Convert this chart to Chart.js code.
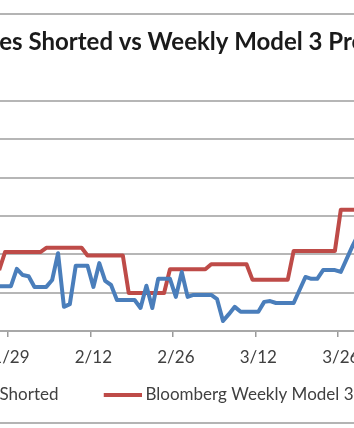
<!DOCTYPE html>
<html>
<head>
<meta charset="utf-8">
<title>Shares Shorted vs Weekly Model 3 Production</title>
<script src="https://cdn.jsdelivr.net/npm/chart.js@4.4.1/dist/chart.umd.min.js"></script>
<style>
  html, body { margin: 0; padding: 0; background: #fff; }
  body { width: 354px; height: 428px; overflow: hidden; position: relative; }
  /* chart border: only top and bottom edges are in view */
  .frame { position: absolute; left: -20px; width: 400px; top: 13px; height: 407px;
           border-top: 2px solid #b4b4b4; border-bottom: 2px solid #b4b4b4; }
  .wrap { position: absolute; left: -141px; top: 0; width: 622px; height: 428px; }
</style>
</head>
<body>
<div class="frame"></div>
<div class="wrap"><canvas id="shortChart"></canvas></div>
<script>
// dates shown on the (daily) category axis
const dateLabels = [
  '1/27', '1/28', '1/29', '1/30', '1/31',
  '2/1', '2/2', '2/3', '2/4', '2/5', '2/6', '2/7', '2/8', '2/9', '2/10',
  '2/11', '2/12', '2/13', '2/14', '2/15', '2/16', '2/17', '2/18', '2/19', '2/20',
  '2/21', '2/22', '2/23', '2/24', '2/25', '2/26', '2/27', '2/28',
  '3/1', '3/2', '3/3', '3/4', '3/5', '3/6', '3/7', '3/8', '3/9', '3/10',
  '3/11', '3/12', '3/13', '3/14', '3/15', '3/16', '3/17', '3/18', '3/19', '3/20',
  '3/21', '3/22', '3/23', '3/24', '3/25', '3/26', '3/27', '3/28', '3/29'
];

// labels that actually get printed under the axis
const tickLabels = ['1/29', '2/12', '2/26', '3/12', '3/26'];

// blue series
const shortedValues = [
  1.17, 1.17, 1.17, 1.62, 1.46, 1.43, 1.15, 1.15, 1.15, 1.33,
  2.03, 0.63, 0.70, 1.70, 1.70, 1.70, 1.15, 1.77, 1.31, 1.20,
  0.81, 0.81, 0.81, 0.81, 0.60, 1.18, 0.60, 1.36, 1.36, 1.36,
  0.89, 1.54, 0.89, 0.94, 0.94, 0.94, 0.94, 0.83, 0.26, 0.44,
  0.63, 0.50, 0.50, 0.50, 0.50, 0.76, 0.78, 0.73, 0.73, 0.73,
  0.73, 1.07, 1.41, 1.36, 1.36, 1.59, 1.59, 1.59, 1.54, 1.88,
  2.22, 2.53
];

// red series (weekly steps)
const modelValues = [
  1.59,
  2.06, 2.06, 2.06, 2.06, 2.06, 2.06, 2.06,
  2.17, 2.17, 2.17, 2.17, 2.17, 2.17, 2.17,
  1.97, 1.97, 1.97, 1.97, 1.97, 1.97, 1.97,
  0.99, 0.99, 0.99, 0.99, 0.99, 0.99, 0.99,
  1.61, 1.61, 1.61, 1.61, 1.61, 1.61, 1.61,
  1.74, 1.74, 1.74, 1.74, 1.74, 1.74, 1.74,
  1.34, 1.34, 1.34, 1.34, 1.34, 1.34, 1.34,
  2.09, 2.09, 2.09, 2.09, 2.09, 2.09, 2.09, 2.09,
  3.16, 3.16, 3.16, 3.16
];

const BLUE = '#4a7ebb';
const RED = '#be4b48';
const GRID = '#b6b6b6';
const TEXT = '#404040';

// widths of the axis areas left/right of the plot (out of view)
const SIDE_LEFT = 137.2;
const SIDE_RIGHT = 119.6;

// legend swatch: empty gap then a short thick line, a bit wider than the box
const SWATCH_BOX = 68.5;
const SWATCH_GAP = 40;
const SWATCH_LEN = 38;

function legendSwatch(color) {
    const c = document.createElement('canvas');
    c.width = SWATCH_GAP + SWATCH_LEN;
    c.height = 4;
    const g = c.getContext('2d');
    g.fillStyle = color;
    g.fillRect(SWATCH_GAP, 0, SWATCH_LEN, 4);
    return c;
}

const ctx = document.getElementById('shortChart').getContext('2d');
new Chart(ctx, {
    type: 'line',
    data: {
        labels: dateLabels,
        datasets: [{
            label: 'Shares Shorted',
            data: shortedValues,
            borderColor: BLUE,
            backgroundColor: BLUE,
            borderWidth: 4,
            pointRadius: 0,
            tension: 0,
            borderJoinStyle: 'round'
        }, {
            label: 'Bloomberg Weekly Model 3 Production',
            data: modelValues,
            borderColor: RED,
            backgroundColor: RED,
            borderWidth: 4,
            pointRadius: 0,
            tension: 0,
            borderJoinStyle: 'round'
        }]
    },
    options: {
        responsive: true,
        maintainAspectRatio: false,
        animation: false,
        layout: {
            padding: { top: 0, bottom: 14.5, left: 0, right: 0 }
        },
        plugins: {
            title: {
                display: true,
                text: 'Tesla Shares Shorted vs Weekly Model 3 Production',
                color: '#1a1a1a',
                font: { family: 'Lato', size: 24, weight: 'bold' },
                padding: { top: 28.2, bottom: 44 }
            },
            legend: {
                position: 'bottom',
                align: 'start',
                labels: {
                    color: TEXT,
                    font: { family: 'Lato', size: 17 },
                    usePointStyle: true,
                    pointStyleWidth: SWATCH_BOX,
                    boxHeight: 4,
                    padding: 10,
                    generateLabels: function(chart) {
                        const items = Chart.defaults.plugins.legend.labels.generateLabels(chart);
                        return items.map(item => Object.assign(item, {
                            pointStyle: legendSwatch(item.strokeStyle)
                        }));
                    }
                }
            },
            tooltip: { enabled: false }
        },
        scales: {
            x: {
                offset: true,
                grid: {
                    offset: true,
                    drawOnChartArea: false,
                    tickLength: 6,
                    lineWidth: 1.5,
                    color: c => tickLabels.includes(dateLabels[c.index]) ? '#9a9a9a' : 'rgba(0,0,0,0)'
                },
                border: { color: '#a8a8a8', width: 2 },
                ticks: {
                    autoSkip: false,
                    maxRotation: 0,
                    minRotation: 0,
                    padding: 10,
                    color: TEXT,
                    font: { family: 'Lato', size: 17 },
                    callback: function(value) {
                        const label = this.getLabelForValue(value);
                        return tickLabels.includes(label) ? label : '';
                    }
                },
                afterFit: scale => { scale.height = 45.5; }
            },
            y: {
                min: 0,
                max: 6,
                ticks: { display: false, stepSize: 1 },
                grid: { color: GRID, lineWidth: 2, drawTicks: false },
                border: { display: false },
                afterFit: scale => { scale.width = SIDE_LEFT; }
            },
            y2: {
                position: 'right',
                grid: { display: false },
                ticks: { display: false },
                border: { display: false },
                afterFit: scale => { scale.width = SIDE_RIGHT; }
            }
        }
    }
});
</script>
</body>
</html>
